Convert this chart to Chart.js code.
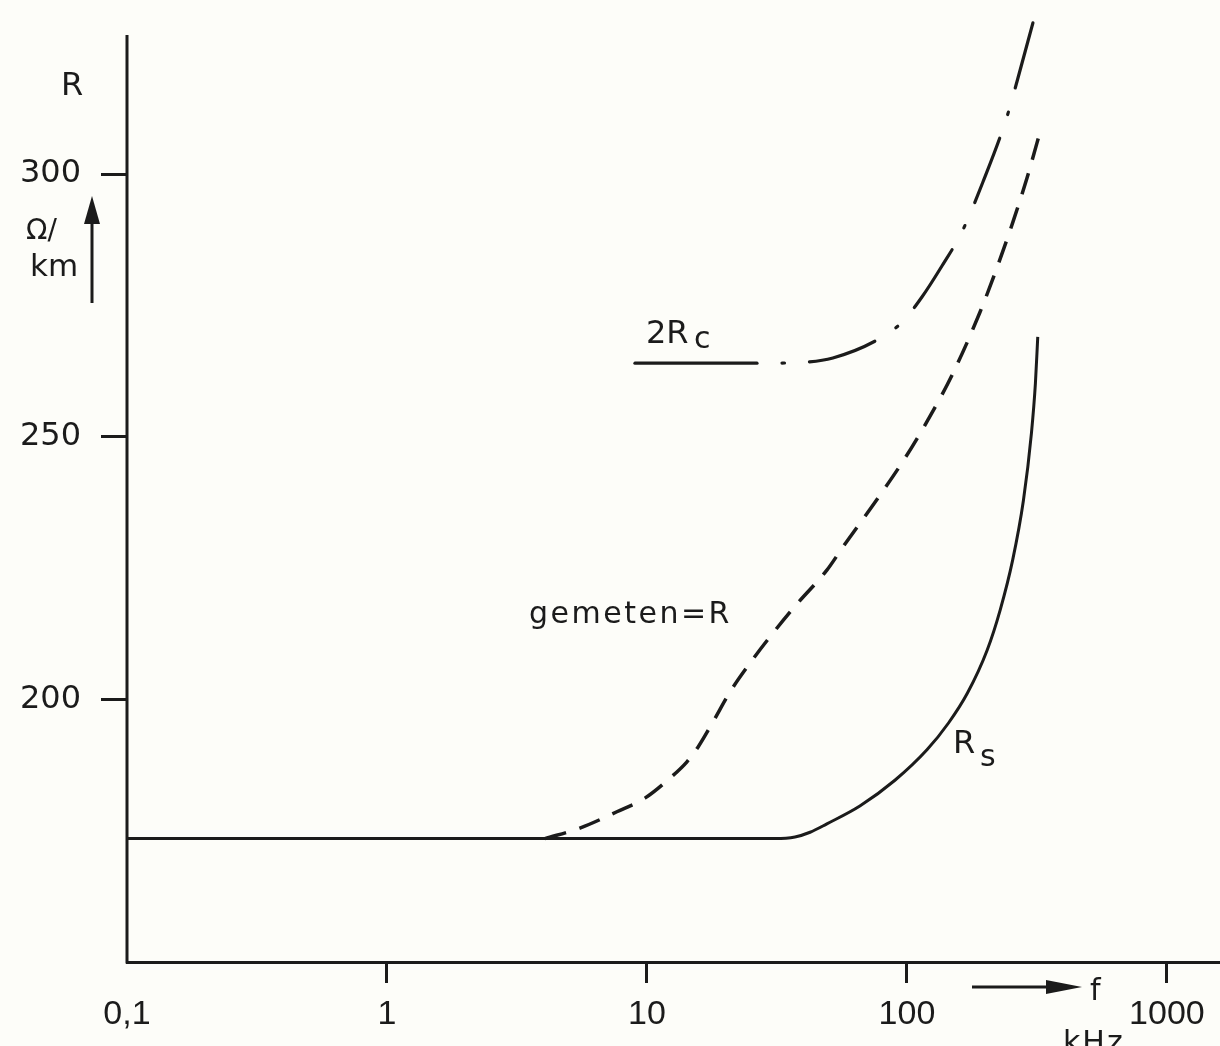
<!DOCTYPE html>
<html>
<head>
<meta charset="utf-8">
<script src="https://cdn.jsdelivr.net/npm/chart.js@4.4.1/dist/chart.umd.min.js"></script>
<style>
  html, body { margin: 0; padding: 0; background: #fdfdf9; }
  #wrap { width: 1220px; height: 1046px; position: relative; }
</style>
</head>
<body>
<div id="wrap"><canvas id="chart"></canvas></div>
<script>
// frequency in kHz, resistance in ohm/km
const rsFreq  = [0.1, 31.1, 37.1, 42.4, 49.2, 65.9, 89.9, 119.4, 144.5, 170.9, 203.6, 228.3, 255, 280.6, 301.2, 312, 318.5];
const rsValue = [173.5, 173.5, 173.8, 174.7, 176.3, 179.7, 184.6, 190.4, 195.5, 201.2, 209.4, 217.0, 226.5, 237.9, 250.7, 260.2, 269.0];

// measured R (dashed)
const measFreq  = [4.05, 5.52, 7.66, 9.82, 12.26, 14.25, 15.71, 17.94, 20.86, 24.9, 30.5, 37.8, 49.2, 56.7, 78.8, 98.2, 120.4, 149, 190.9, 223.9, 255.7, 289.4, 330.5];
const measValue = [173.5, 175.5, 178.6, 181.2, 185.0, 188.1, 190.9, 195.7, 201.4, 206.9, 212.6, 218.2, 224.6, 229.0, 238.9, 245.9, 253.2, 261.7, 273.7, 282.7, 290.9, 299.2, 309.3];

// 2Rc (dash-dot)
const rcFreq  = [8.99, 26.5, 40.5, 51.9, 76.7, 95.7, 114.2, 136.3, 162.7, 196, 242.4, 267.3, 305.2];
const rcValue = [264.0, 264.0, 264.2, 265.0, 268.4, 271.8, 276.6, 282.5, 289.0, 298.5, 310.9, 318.3, 328.8];

const xTickValues = [0.1, 1, 10, 100, 1000];
const xTickLabels = ['0,1', '1', '10', '100', '1000'];
const yTickValues = [200, 250, 300];

const INK = '#1b1b1b';

function toPoints(xs, ys) {
    return xs.map((x, i) => ({ x: x, y: ys[i] }));
}

function arrowHead(ctx, tipX, tipY, dx, dy, len, half) {
    // dx, dy: unit direction of the arrow
    const bx = tipX - dx * len, by = tipY - dy * len;
    ctx.beginPath();
    ctx.moveTo(tipX, tipY);
    ctx.lineTo(bx - dy * half, by + dx * half);
    ctx.lineTo(bx + dy * half, by - dx * half);
    ctx.closePath();
    ctx.fill();
}

const paperPlugin = {
    id: 'paper',
    beforeDraw(chart) {
        const ctx = chart.ctx;
        ctx.save();
        ctx.fillStyle = '#fdfdf9';
        ctx.fillRect(0, 0, chart.width, chart.height);
        ctx.restore();
    },
    afterDraw(chart) {
        const ctx = chart.ctx;
        const area = chart.chartArea;
        const yScale = chart.scales.y;

        ctx.save();
        ctx.strokeStyle = INK;
        ctx.fillStyle = INK;
        ctx.lineWidth = 3;

        // y axis line (stops below the top of the plot)
        ctx.beginPath();
        ctx.moveTo(area.left, yScale.getPixelForValue(326.5));
        ctx.lineTo(area.left, area.bottom + 1.5);
        ctx.stroke();

        // unit arrow on the y side
        ctx.beginPath();
        ctx.moveTo(92, 303);
        ctx.lineTo(92, 220);
        ctx.stroke();
        arrowHead(ctx, 92, 196, 0, -1, 28, 8);

        // f arrow under the x axis
        ctx.beginPath();
        ctx.moveTo(972, 987);
        ctx.lineTo(1050, 987);
        ctx.stroke();
        arrowHead(ctx, 1082, 987, 1, 0, 36, 7);

        ctx.textBaseline = 'alphabetic';
        ctx.textAlign = 'left';

        ctx.font = '32px "DejaVu Sans"';
        ctx.fillText('R', 61, 95);

        ctx.font = '28px "DejaVu Sans"';
        ctx.fillText('\u03A9/', 26, 239);
        ctx.font = '31px "DejaVu Sans"';
        ctx.fillText('km', 30, 276);

        ctx.font = '30px "DejaVu Sans"';
        ctx.fillText('f', 1090, 1000);
        ctx.letterSpacing = '2px';
        ctx.fillText('kHz', 1063, 1052);
        ctx.letterSpacing = '0px';

        // curve labels
        ctx.font = '32px "DejaVu Sans"';
        ctx.fillText('2R', 646, 343);
        ctx.font = '30px "DejaVu Sans"';
        ctx.fillText('c', 694, 348);

        ctx.font = '32px "DejaVu Sans"';
        ctx.fillText('R', 953, 753);
        ctx.font = '30px "DejaVu Sans"';
        ctx.fillText('s', 980, 766);

        ctx.font = '30px "DejaVu Sans"';
        ctx.letterSpacing = '2.5px';
        ctx.fillText('gemeten=R', 529, 623);
        ctx.letterSpacing = '0px';

        ctx.restore();
    }
};

const ctx = document.getElementById('chart').getContext('2d');

new Chart(ctx, {
    type: 'line',
    data: {
        datasets: [
            {
                label: 'Rs',
                data: toPoints(rsFreq, rsValue),
                borderColor: INK,
                borderWidth: 3,
                cubicInterpolationMode: 'monotone',
                pointRadius: 0,
                fill: false
            },
            {
                label: 'gemeten=R',
                data: toPoints(measFreq, measValue),
                borderColor: INK,
                borderWidth: 3.5,
                borderDash: [22, 14],
                cubicInterpolationMode: 'monotone',
                pointRadius: 0,
                fill: false
            },
            {
                label: '2Rc',
                data: toPoints(rcFreq, rcValue),
                borderColor: INK,
                borderWidth: 3.2,
                borderCapStyle: 'round',
                cubicInterpolationMode: 'monotone',
                pointRadius: 0,
                fill: false,
                segment: {
                    // first stretch is drawn solid, the rest dash-dot
                    borderDash: c => c.p0DataIndex === 0 ? [] : [69, 25, 2.5, 25],
                    borderDashOffset: c => c.p0DataIndex === 0 ? 0 : 69
                }
            }
        ]
    },
    options: {
        responsive: true,
        maintainAspectRatio: false,
        animation: false,
        layout: { padding: { top: 6, right: 0, bottom: 0, left: 0 } },
        plugins: {
            legend: { display: false },
            tooltip: { enabled: false }
        },
        scales: {
            x: {
                type: 'logarithmic',
                min: 0.1,
                max: 1600,
                afterBuildTicks(scale) {
                    scale.ticks = xTickValues.map(v => ({ value: v }));
                },
                afterFit(scale) {
                    scale.height = 84;
                    scale.paddingLeft = 0;
                    scale.paddingRight = 0;
                },
                border: { display: true, color: INK, width: 3 },
                grid: {
                    drawOnChartArea: false,
                    drawTicks: true,
                    tickLength: 21,
                    tickWidth: 3,
                    color: c => (c.tick && c.tick.value === 0.1) ? 'rgba(0,0,0,0)' : INK
                },
                ticks: {
                    autoSkip: false,
                    maxRotation: 0,
                    padding: 11,
                    color: INK,
                    font: { family: 'Liberation Sans', size: 34 },
                    callback: (value) => {
                        const i = xTickValues.indexOf(value);
                        return i >= 0 ? xTickLabels[i] : '';
                    }
                }
            },
            y: {
                type: 'linear',
                min: 150,
                max: 332,
                afterBuildTicks(scale) {
                    scale.ticks = yTickValues.map(v => ({ value: v }));
                },
                afterFit(scale) {
                    scale.width = 127;
                    scale.paddingTop = 0;
                    scale.paddingBottom = 0;
                },
                border: { display: false },
                grid: {
                    drawOnChartArea: false,
                    drawTicks: true,
                    tickLength: 26,
                    tickWidth: 3,
                    color: INK
                },
                ticks: {
                    padding: 20,
                    color: INK,
                    font: { family: 'DejaVu Sans', size: 32 },
                    callback: (value) => String(value)
                }
            }
        }
    },
    plugins: [paperPlugin]
});
</script>
</body>
</html>
